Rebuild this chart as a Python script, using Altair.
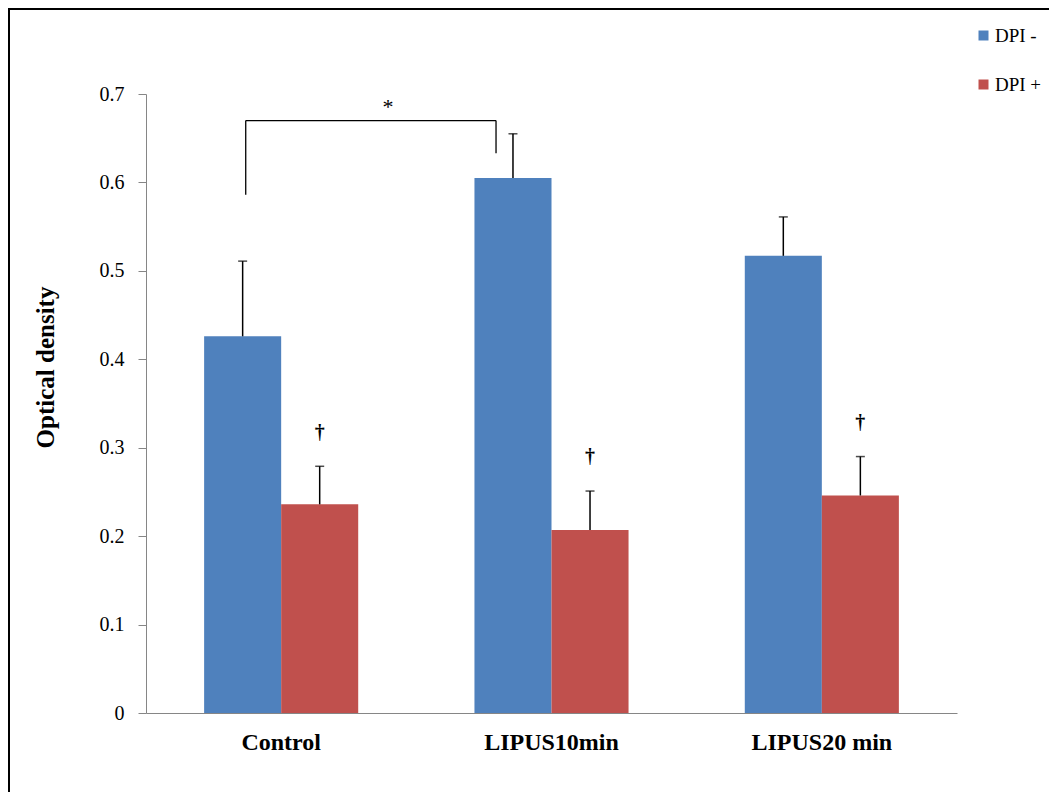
import altair as alt
import pandas as pd

groups = ["Control", "LIPUS10min", "LIPUS20 min"]
series = ["DPI -", "DPI +"]
dpi_minus = [0.426, 0.605, 0.517]
dpi_minus_err = [0.085, 0.050, 0.044]
dpi_plus = [0.236, 0.207, 0.246]
dpi_plus_err = [0.043, 0.044, 0.044]
dagger_marks = ["†", "†", "†"]

# significance bracket (Control vs LIPUS10min)
bracket_left = ["Control"]
bracket_right = ["LIPUS10min"]
bracket_top = [0.670]
bracket_left_low = [0.586]
bracket_right_low = [0.633]
bracket_label = ["*"]

rows = []
for i, g in enumerate(groups):
    rows.append({"group": g, "series": series[0], "value": dpi_minus[i],
                 "upper": dpi_minus[i] + dpi_minus_err[i], "mark": ""})
    rows.append({"group": g, "series": series[1], "value": dpi_plus[i],
                 "upper": dpi_plus[i] + dpi_plus_err[i], "mark": dagger_marks[i]})
df = pd.DataFrame(rows)
df["mark_y"] = df["upper"] + 0.038

bdf = pd.DataFrame({"left": bracket_left, "right": bracket_right, "top": bracket_top,
                    "left_low": bracket_left_low, "right_low": bracket_right_low,
                    "label": bracket_label})

FONT = "Times New Roman, Liberation Serif, serif"
W, H = 811, 619
PAD = {"left": 138, "top": 86, "right": 92, "bottom": 79}

xenc = alt.X("group:N", sort=groups, title=None,
             scale=alt.Scale(paddingInner=0.43, paddingOuter=0.215),
             axis=alt.Axis(labelAngle=0, ticks=False, domainColor="#868686",
                           labelFont=FONT, labelFontSize=24, labelFontWeight="bold",
                           labelColor="black", labelPadding=17))
xoff = alt.XOffset("series:N", sort=series)

yenc = alt.Y("value:Q", title="Optical density",
             scale=alt.Scale(domain=[0, 0.7], nice=False),
             axis=alt.Axis(values=[0, 0.1, 0.2, 0.3, 0.4, 0.5, 0.6, 0.7], format="~g",
                           grid=False, domainColor="#868686", tickColor="#868686",
                           tickSize=8, labelFont=FONT, labelFontSize=20,
                           labelColor="black", labelPadding=14,
                           titleFont=FONT, titleFontSize=25, titleFontWeight="bold",
                           titleColor="black", titleAngle=270, titleX=-101, titleY=273,
                           titleAlign="center", titleBaseline="middle"))

base = alt.Chart(df)

bars = base.mark_bar().encode(
    x=xenc, xOffset=xoff, y=yenc,
    color=alt.Color("series:N", sort=series,
                    scale=alt.Scale(domain=series, range=["#4F81BD", "#C0504D"]),
                    legend=alt.Legend(orient="none", legendX=828, legendY=-68, title=None,
                                      symbolType="square", symbolSize=100,
                                      symbolStrokeWidth=0, labelFont=FONT,
                                      labelFontSize=19, labelColor="black",
                                      rowPadding=29, labelOffset=2, padding=0)),
)

err = base.mark_rule(color="black", strokeWidth=1.5).encode(
    x=alt.X("group:N", sort=groups), xOffset=xoff,
    y="value:Q", y2="upper:Q")

caps = base.mark_tick(color="black", thickness=1.5, size=9).encode(
    x=alt.X("group:N", sort=groups), xOffset=xoff, y="upper:Q")

daggers = base.mark_text(font=FONT, fontSize=20, fontWeight="bold", color="black",
                         baseline="middle").encode(
    x=alt.X("group:N", sort=groups), xOffset=xoff, y="mark_y:Q", text="mark:N")

bbase = alt.Chart(bdf)
b_h = bbase.mark_rule(color="black", strokeWidth=1.3).encode(
    x=alt.X("left:N", sort=groups, bandPosition=0.27),
    x2=alt.X2("right", bandPosition=0.14),
    y="top:Q")
b_l = bbase.mark_rule(color="black", strokeWidth=1.3).encode(
    x=alt.X("left:N", sort=groups, bandPosition=0.27), y="top:Q", y2="left_low:Q")
b_r = bbase.mark_rule(color="black", strokeWidth=1.3).encode(
    x=alt.X("right:N", sort=groups, bandPosition=0.14), y="top:Q", y2="right_low:Q")
b_t = bbase.mark_text(font=FONT, fontSize=22, color="black", baseline="middle",
                      dx=-108, dy=-14).encode(
    x=alt.X("right:N", sort=groups, bandPosition=0.14), y="top:Q", text="label:N")

frame_l = bbase.mark_rule(color="black", strokeWidth=2).encode(
    x=alt.value(-137), y=alt.value(-86), y2=alt.value(H + PAD["bottom"]))
frame_t = bbase.mark_rule(color="black", strokeWidth=2).encode(
    x=alt.value(-138), x2=alt.value(W + PAD["right"]), y=alt.value(-85))

chart = alt.layer(bars, err, caps, daggers, b_h, b_l, b_r, b_t, frame_l, frame_t).properties(
    width=W, height=H,
    autosize=alt.AutoSizeParams(type="none"),
    padding=PAD,
    background="white",
).configure_view(strokeWidth=0)

chart.save("out.html", embed_options={"renderer": "svg", "actions": False})
